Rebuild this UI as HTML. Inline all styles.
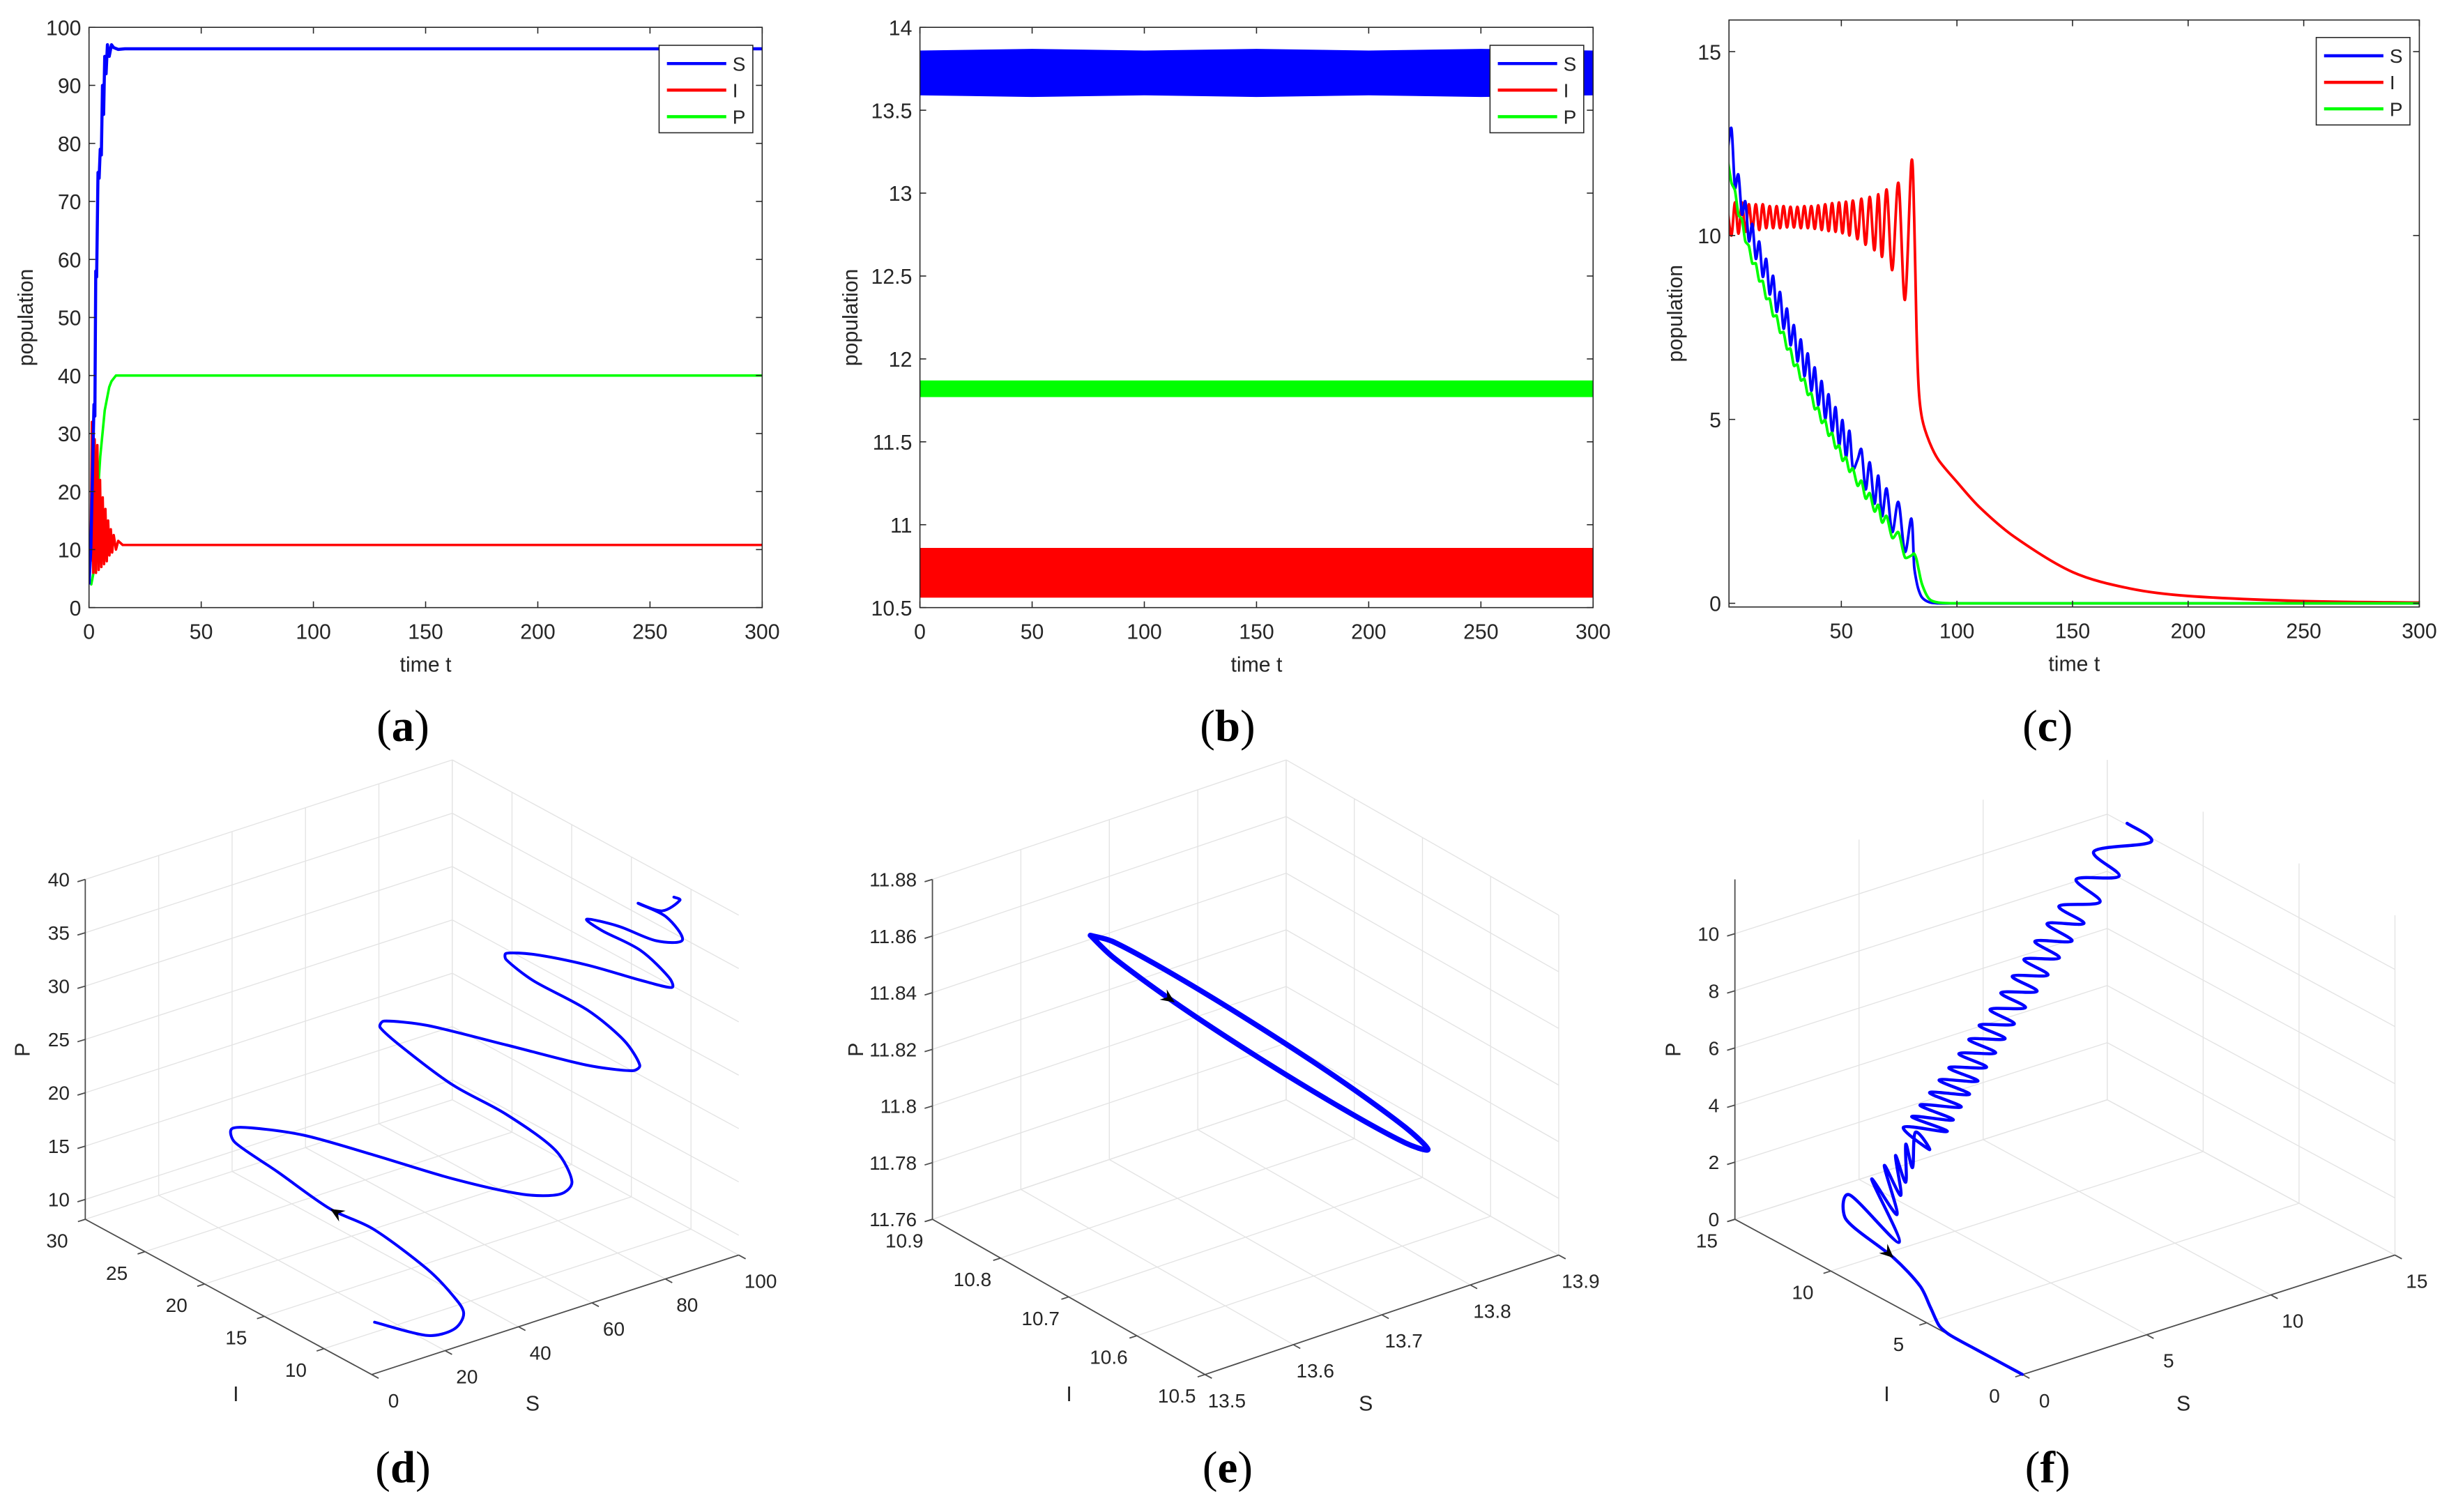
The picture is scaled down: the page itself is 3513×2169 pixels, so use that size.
<!DOCTYPE html>
<html><head><meta charset="utf-8"><style>
html,body{margin:0;padding:0;background:#fff;}
svg{display:block;}
text{font-family:"Liberation Sans",sans-serif;}
</style></head>
<body>
<svg id="fig" xmlns="http://www.w3.org/2000/svg" width="3513" height="2169" viewBox="0 0 1568 968" preserveAspectRatio="none">
<rect x="0" y="0" width="1568" height="968" fill="#fff"/>
</svg>
<script>
// ---------- Panel (a) data ----------
const aTS=[0,0.8,1.5,2.2,2.6,3.0,3.4,4.0,4.5,5.0,5.5,6.0,6.5,7.0,7.6,8.2,9.0,10.0,11,13,16,300];
const aS=[4,10,22,35,33,58,57,75,74,79,78,90,85,95,92,97,95,97,96.5,96.2,96.3,96.3];
const aTI=[0,0.7,1.3,1.9,2.5,3.1,3.7,4.3,4.9,5.5,6.1,6.7,7.3,7.9,8.5,9.1,9.7,10.3,11,12,13,15,300];
const aI=[10,8,32,6,29,6,28,6.5,22,7,19,7.5,17,8,15,9,13.5,9.5,12.5,10,11.5,10.8,10.8];
const aTP=[0,1,2,3,4,5,6,7,8,9,10,11,12,14,300];
const aP=[5,4,6,12,20,26,30,34,36,38,39,39.5,40,40,40];
const aXTicks=[0,50,100,150,200,250,300];
const aYTicks=[0,10,20,30,40,50,60,70,80,90,100];
// ---------- Panel (b) data (oscillation envelopes) ----------
const bT=[0,50,100,150,200,250,300];
const bShi=[13.86,13.87,13.86,13.87,13.86,13.87,13.86];
const bSlo=[13.59,13.58,13.59,13.58,13.59,13.58,13.59];
const bPhi=[11.87,11.87,11.87,11.87,11.87,11.87,11.87];
const bPlo=[11.77,11.77,11.77,11.77,11.77,11.77,11.77];
const bIhi=[10.86,10.86,10.86,10.86,10.86,10.86,10.86];
const bIlo=[10.56,10.56,10.56,10.56,10.56,10.56,10.56];
const bXTicks=[0,50,100,150,200,250,300];
const bYTicks=[10.5,11,11.5,12,12.5,13,13.5,14];
const bYLabels=["10.5","11","11.5","12","12.5","13","13.5","14"];
// ---------- Panel (c) data (common time grid) ----------
const cT=[1,2.5,4,5.5,7,8.5,10,11.5,13,14.5,16,17.5,19,20.5,22,23.5,25,26.5,28,29.5,31,32.5,34,35.5,37,38.5,40,41.5,43,44.5,46,47.5,49,50.5,52,53.5,55,57,58.7,60.5,62.3,64.3,66,67.6,69.6,72,74.7,77.5,80.3,81.5,82.5,83.5,85,88,92,100,110,125,150,175,200,250,300];
const cS=[12.4,12.9,11.3,11.65,10.58,10.92,9.85,10.31,9.37,9.83,8.88,9.36,8.4,8.9,7.93,8.46,7.47,8.01,7.02,7.56,6.58,7.17,6.18,6.79,5.78,6.41,5.39,6.04,5.02,5.68,4.66,5.33,4.29,4.98,3.97,4.69,3.66,3.9,4.18,3.1,3.83,2.71,3.47,2.37,3.12,1.94,2.75,1.4,2.3,1.0,0.6,0.35,0.15,0.03,0,0,0,0,0,0,0,0,0];
const cI=[10.6,10.0,10.9,10.05,10.9,10.1,10.85,10.15,10.85,10.15,10.85,10.2,10.8,10.2,10.8,10.2,10.8,10.22,10.78,10.22,10.78,10.2,10.8,10.2,10.8,10.18,10.82,10.15,10.85,10.12,10.88,10.1,10.9,10.06,10.92,10.0,10.95,9.9,11.0,9.75,11.05,9.6,11.12,9.42,11.25,9.06,11.43,8.25,12.0,10.5,7.5,5.8,5.0,4.4,3.9,3.3,2.6,1.8,0.85,0.4,0.2,0.06,0.02];
const cP=[12.0,11.43,11.22,10.56,10.44,9.84,9.72,9.24,9.24,8.76,8.76,8.28,8.28,7.81,7.82,7.36,7.37,6.91,6.92,6.46,6.49,6.06,6.1,5.67,5.71,5.28,5.32,4.91,4.98,4.56,4.63,4.22,4.29,3.88,3.97,3.58,3.67,3.2,3.33,2.85,2.99,2.5,2.67,2.2,2.37,1.78,1.93,1.25,1.3,1.35,1.2,0.9,0.5,0.12,0.02,0,0,0,0,0,0,0,0];
const cXTicks=[50,100,150,200,250,300];
const cYTicks=[0,5,10,15];
// ---------- Panel (d) data (3D trajectory) ----------
const dS=[5,20,25,27,28,29,30,30,30,32,35,40,45,50,55,60,62,63,64,65,66,67,68,70,74,80,84,86,87,87,87,88,89,90,92,94,95,96,96,96,96,96,96.5,97,97,96.5,96.3,96.3,96.3,96.3];
const dI=[7.3,7.5,6.8,6.6,7.8,10.3,15.1,18.7,23.1,27.3,28.5,28.4,25.5,21.2,16.1,11.8,9.3,8.6,10.3,14.7,19.5,23.8,26.2,26.5,24.1,19.3,13.8,10.6,10.3,11.6,14.7,19.5,22.1,22.4,20.7,16.9,12.7,10.4,10.6,13.0,16.2,17.5,15.0,12.0,9.8,11.0,13.3,11.3,9.8,10.3];
const dP=[11.7,8.65,9.1,10.5,11.3,12.2,12.9,12.6,13.4,13.4,13.6,13.2,13.7,13.9,14.2,14.8,16.1,17.6,19.4,19.96,19.7,20.3,20.8,21.0,21.6,22.0,23.0,24.2,24.8,26.3,27.3,27.0,27.3,27.6,28.3,29.4,30.4,31.0,31.8,32.9,32.8,33.1,33.9,34.3,35.7,37.2,37.1,37.6,39.5,39.5];
const dSTicks=[0,20,40,60,80,100];
const dITicks=[10,15,20,25,30];
const dPTicks=[10,15,20,25,30,35,40];
// ---------- Panel (e) data (limit cycle) ----------
const eS=[13.62,13.635,13.675,13.73,13.785,13.825,13.84,13.825,13.785,13.73,13.675,13.635,13.62];
const eI=[10.824,10.81,10.7715,10.719,10.6665,10.628,10.614,10.628,10.6665,10.719,10.7715,10.81,10.824];
const eP=[11.858,11.8506,11.8357,11.8175,11.8008,11.79,11.788,11.7955,11.8103,11.8285,11.8453,11.8561,11.858];
const eSTicks=[13.5,13.6,13.7,13.8,13.9];
const eITicks=[10.5,10.6,10.7,10.8,10.9];
const ePTicks=[11.76,11.78,11.8,11.82,11.84,11.86,11.88];
// ---------- Panel (f) ticks (trajectory uses panel (c) series) ----------
const fSTicks=[0,5,10,15];
const fITicks=[0,5,10,15];
const fPTicks=[0,2,4,6,8,10];

const NS='http://www.w3.org/2000/svg';
const svg=document.getElementById('fig');
function el(tag,attrs,parent){const e=document.createElementNS(NS,tag);for(const k in attrs)e.setAttribute(k,attrs[k]);(parent||svg).appendChild(e);return e;}
function capVec(v,maxLen){const l=Math.hypot(v[0],v[1]);if(l>maxLen&&l>0){return [v[0]*maxLen/l,v[1]*maxLen/l];}return v;}
function smoothPath(pts){
  let d='M'+pts[0][0].toFixed(2)+','+pts[0][1].toFixed(2);
  for(let i=0;i<pts.length-1;i++){
    const p0=pts[i-1]||pts[i],p1=pts[i],p2=pts[i+1],p3=pts[i+2]||pts[i+1];
    const seg=Math.hypot(p2[0]-p1[0],p2[1]-p1[1])/3;
    const t1=capVec([(p2[0]-p0[0])/6,(p2[1]-p0[1])/6],seg);
    const t2=capVec([(p3[0]-p1[0])/6,(p3[1]-p1[1])/6],seg);
    const c1=[p1[0]+t1[0],p1[1]+t1[1]];
    const c2=[p2[0]-t2[0],p2[1]-t2[1]];
    d+=' C'+c1[0].toFixed(2)+','+c1[1].toFixed(2)+' '+c2[0].toFixed(2)+','+c2[1].toFixed(2)+' '+p2[0].toFixed(2)+','+p2[1].toFixed(2);
  }
  return d;
}
function arrowHead(g,x,y,ang){
  const L=9,W=4,c=Math.cos(ang),s=Math.sin(ang);
  const bx=x-L*c,by=y-L*s,nx=x-0.65*L*c,ny=y-0.65*L*s;
  const pts=[[x,y],[bx-W*s,by+W*c],[nx,ny],[bx+W*s,by-W*c]].map(p=>p[0].toFixed(2)+','+p[1].toFixed(2)).join(' ');
  const a=el('polygon',{points:pts,fill:'#000'},g);
  
  
}
function caption(x,y,letter,name){
  const t=el('text',{x:x,y:y,'text-anchor':'middle','font-size':29,fill:'#000',style:'font-family:"Liberation Serif",serif'});
  
  
  const s1=el('tspan',{},t);s1.textContent='(';
  const s2=el('tspan',{'font-weight':'bold'},t);s2.textContent=letter;
  const s3=el('tspan',{},t);s3.textContent=')';
}

// ---------- 2D axes ----------
function axes2D(cfg){
  const g=el('g',{});
  
  
  cfg.sx=v=>cfg.x0+(v-cfg.xmin)/(cfg.xmax-cfg.xmin)*(cfg.x1-cfg.x0);
  cfg.sy=v=>cfg.y1-(v-cfg.ymin)/(cfg.ymax-cfg.ymin)*(cfg.y1-cfg.y0);
  const cp=el('clipPath',{id:cfg.name+'-clip'},g);
  el('rect',{x:cfg.x0,y:cfg.y0,width:cfg.x1-cfg.x0,height:cfg.y1-cfg.y0},cp);
  cfg.g=g;
  cfg.dg=el('g',{'clip-path':'url(#'+cfg.name+'-clip)'},g);
  
  
  return cfg;
}
function frame2D(cfg){
  const g=cfg.g;
  const fr=el('rect',{x:cfg.x0,y:cfg.y0,width:cfg.x1-cfg.x0,height:cfg.y1-cfg.y0,fill:'none',stroke:'#262626','stroke-width':0.7},g);
  
  
  cfg.xticks.forEach((v,k)=>{
    const x=cfg.sx(v);
    const t1=el('line',{x1:x,y1:cfg.y1,x2:x,y2:cfg.y1-4,stroke:'#262626','stroke-width':0.7},g);
    
    
    const t2=el('line',{x1:x,y1:cfg.y0,x2:x,y2:cfg.y0+4,stroke:'#262626','stroke-width':0.7},g);
    
    
    const lb=el('text',{x:x,y:cfg.y1+20,'text-anchor':'middle','font-size':13.5,fill:'#262626'},g);
    
    
    lb.textContent=String(v);
  });
  cfg.yticks.forEach((v,k)=>{
    const y=cfg.sy(v);
    const t1=el('line',{x1:cfg.x0,y1:y,x2:cfg.x0+4,y2:y,stroke:'#262626','stroke-width':0.7},g);
    
    
    const t2=el('line',{x1:cfg.x1,y1:y,x2:cfg.x1-4,y2:y,stroke:'#262626','stroke-width':0.7},g);
    
    
    const lb=el('text',{x:cfg.x0-5,y:y+5,'text-anchor':'end','font-size':13.5,fill:'#262626'},g);
    
    
    lb.textContent=cfg.ylabels?cfg.ylabels[k]:String(v);
  });
  const xt=el('text',{x:(cfg.x0+cfg.x1)/2,y:cfg.y1+41,'text-anchor':'middle','font-size':13.5,fill:'#262626'},g);
  
  
  xt.textContent='time t';
  const yt=el('text',{x:0,y:0,'text-anchor':'middle','font-size':13.5,fill:'#262626',transform:'translate('+cfg.ylx+','+((cfg.y0+cfg.y1)/2)+') rotate(-90)'},g);
  
  
  yt.textContent='population';
  const lx=cfg.x1-66,ly=cfg.legY;
  const lg=el('g',{},g);
  
  
  const lr=el('rect',{x:lx,y:ly,width:60,height:56,fill:'#fff',stroke:'#262626','stroke-width':0.7},lg);
  
  
  [['S','#0000ff'],['I','#ff0000'],['P','#00ff00']].forEach((e,k)=>{
    const yy=ly+11.7+k*17;
    const ln=el('line',{x1:lx+5,y1:yy,x2:lx+43,y2:yy,stroke:e[1],'stroke-width':2},lg);
    
    
    const tx=el('text',{x:lx+47,y:yy+4.5,'font-size':12.5,fill:'#262626'},lg);
    
    
    tx.textContent=e[0];
  });
}
function series2D(cfg,ts,vs,color,w,name,smooth){
  const pts=ts.map((t,k)=>[cfg.sx(t),cfg.sy(vs[k])]);
  const d=smooth?smoothPath(pts):'M'+pts.map(p=>p[0].toFixed(2)+','+p[1].toFixed(2)).join(' L');
  const p=el('path',{d:d,fill:'none',stroke:color,'stroke-width':w,'stroke-linejoin':'round'},cfg.dg);
  
  
}
function band2D(cfg,ts,hi,lo,color,name){
  const up=ts.map((t,k)=>cfg.sx(t).toFixed(2)+','+cfg.sy(hi[k]).toFixed(2));
  const dn=ts.map((t,k)=>cfg.sx(t).toFixed(2)+','+cfg.sy(lo[k]).toFixed(2)).reverse();
  const p=el('polygon',{points:up.concat(dn).join(' '),fill:color},cfg.dg);
  
  
}

// Panel a
const A=axes2D({name:'panel-a',x0:57,x1:488,y0:17.5,y1:389,xmin:0,xmax:300,ymin:0,ymax:100,xticks:aXTicks,yticks:aYTicks,ylx:21,legY:29});
series2D(A,aTP,aP,'#00ff00',1.6,'series-P-line',false);
series2D(A,aTI,aI,'#ff0000',1.6,'series-I-line',false);
series2D(A,aTS,aS,'#0000ff',2,'series-S-line',false);
frame2D(A);
// Panel b
const B=axes2D({name:'panel-b',x0:589,x1:1020,y0:17.5,y1:389,xmin:0,xmax:300,ymin:10.5,ymax:14,xticks:bXTicks,yticks:bYTicks,ylabels:bYLabels,ylx:549,legY:29});
band2D(B,bT,bShi,bSlo,'#0000ff','series-S-band');
band2D(B,bT,bPhi,bPlo,'#00ff00','series-P-band');
band2D(B,bT,bIhi,bIlo,'#ff0000','series-I-band');
frame2D(B);
// Panel c
const C=axes2D({name:'panel-c',x0:1107,x1:1549,y0:12.8,y1:388.6,xmin:1.4,xmax:300,ymin:-0.1,ymax:15.86,xticks:cXTicks,yticks:cYTicks,ylx:1077,legY:24});
series2D(C,cT,cI,'#ff0000',1.7,'series-I-line',true);
series2D(C,cT,cS,'#0000ff',1.7,'series-S-line',true);
series2D(C,cT,cP,'#00ff00',1.7,'series-P-line',true);
frame2D(C);

caption(258,474.5,'a','caption-a');
caption(786,474.5,'b','caption-b');
caption(1311,474.5,'c','caption-c');

// ---------- 3D axes ----------
function axes3D(cfg){
  const g=el('g',{});
  
  
  cfg.g=g;
  cfg.pr=(s,i,p)=>{
    const sn=(s-cfg.sMin)/(cfg.sMax-cfg.sMin),inn=(i-cfg.iMin)/(cfg.iMax-cfg.iMin),pn=(p-cfg.pMin)/(cfg.pMax-cfg.pMin);
    return [cfg.ox+sn*cfg.SX+inn*cfg.IX, cfg.oy+sn*cfg.SY+inn*cfg.IY-pn*217.6];
  };
  const L=(a,b,col,w,name)=>{const e=el('line',{x1:a[0].toFixed(2),y1:a[1].toFixed(2),x2:b[0].toFixed(2),y2:b[1].toFixed(2),stroke:col,'stroke-width':w},g);return e;};
  const gc='#e3e3e3',gw=0.6;
  const {sMin,sMax,iMin,iMax,pMin,pMax}=cfg;
  cfg.sT.forEach(s=>{L(cfg.pr(s,iMax,pMin),cfg.pr(s,iMax,pMax),gc,gw,'grid-line-s-wall');L(cfg.pr(s,iMin,pMin),cfg.pr(s,iMax,pMin),gc,gw,'grid-line-s-floor');});
  cfg.iT.forEach(i=>{L(cfg.pr(sMax,i,pMin),cfg.pr(sMax,i,pMax),gc,gw,'grid-line-i-wall');L(cfg.pr(sMin,i,pMin),cfg.pr(sMax,i,pMin),gc,gw,'grid-line-i-floor');});
  cfg.pT.forEach(p=>{L(cfg.pr(sMin,iMax,p),cfg.pr(sMax,iMax,p),gc,gw,'grid-line-p-left');L(cfg.pr(sMax,iMin,p),cfg.pr(sMax,iMax,p),gc,gw,'grid-line-p-right');});
  const ac='#4d4d4d';
  L(cfg.pr(sMin,iMax,pMin),cfg.pr(sMin,iMax,pMax),ac,0.8,'p-axis-line');
  L(cfg.pr(sMin,iMin,pMin),cfg.pr(sMin,iMax,pMin),ac,0.8,'i-axis-line');
  L(cfg.pr(sMin,iMin,pMin),cfg.pr(sMax,iMin,pMin),ac,0.8,'s-axis-line');
  const T=(x,y,anchor,txt,name,fs)=>{const t=el('text',{x:x.toFixed(2),y:y.toFixed(2),'text-anchor':anchor,'font-size':fs||12.5,fill:'#262626'},g);t.textContent=txt;return t;};
  cfg.pT.forEach(p=>{const q=cfg.pr(sMin,iMax,p);L(q,[q[0]-5,q[1]+1.5],ac,0.8,'p-tick');T(q[0]-10,q[1]+4.5,'end',String(p),'p-tick-label');});
  cfg.iT.forEach(i=>{const q=cfg.pr(sMin,i,pMin);L(q,[q[0]-4.7,q[1]+1.5],ac,0.8,'i-tick');T(q[0]-18,q[1]+18,'middle',String(i),'i-tick-label');});
  cfg.sT.forEach(s=>{const q=cfg.pr(s,iMin,pMin);L(q,[q[0]+4.4,q[1]+2.4],ac,0.8,'s-tick');T(q[0]+14,q[1]+21,'middle',String(s),'s-tick-label');});
  T(cfg.ox-87,cfg.oy+17,'middle','I','i-axis-title',13.5);
  T(cfg.ox+103,cfg.oy+23,'middle','S','s-axis-title',13.5);
  const pt=el('text',{x:0,y:0,'text-anchor':'middle','font-size':13.5,fill:'#262626',transform:'translate('+(cfg.ox-219)+',672) rotate(-90)'},g);
  
  
  pt.textContent='P';
  return cfg;
}
function curve3D(cfg,S,I,P,w,name,closed){
  const pts=S.map((s,k)=>cfg.pr(s,I[k],P[k]));
  const p=el('path',{d:smoothPath(pts)+(closed?' Z':''),fill:'none',stroke:'#0000ff','stroke-width':w,'stroke-linejoin':'round','stroke-linecap':'round'},cfg.g);
  
  
  return pts;
}

// Panel d
const D=axes3D({name:'panel-d',ox:238,oy:880,SX:235,SY:-76.5,IX:-183.4,IY:-99.4,sMin:0,sMax:100,iMin:6,iMax:30,pMin:8.14,pMax:40,sT:dSTicks,iT:dITicks,pT:dPTicks});
const dPts=curve3D(D,dS,dI,dP,1.8,'trajectory-d',false);
{const a=dPts[6],b=dPts[8];arrowHead(D.g,dPts[7][0],dPts[7][1],Math.atan2(b[1]-a[1],b[0]-a[0]));}
// Panel e
const E=axes3D({name:'panel-e',ox:771.5,oy:880,SX:226.5,SY:-76.5,IX:-174.5,IY:-99.4,sMin:13.5,sMax:13.9,iMin:10.5,iMax:10.9,pMin:11.76,pMax:11.88,sT:eSTicks,iT:eITicks,pT:ePTicks});
const ePts=curve3D(E,eS,eI,eP,3.4,'limit-cycle-e',true);
{const a=ePts[1],b=ePts[3];arrowHead(E.g,ePts[2][0],ePts[2][1],Math.atan2(b[1]-a[1],b[0]-a[0]));}
// Panel f (phase trajectory of the panel (c) series)
const F=axes3D({name:'panel-f',ox:1295,oy:880,SX:238.4,SY:-76.5,IX:-184.2,IY:-99.4,sMin:0,sMax:15,iMin:0,iMax:15,pMin:0,pMax:11.9,sT:fSTicks,iT:fITicks,pT:fPTicks});
const fPts=curve3D(F,cS,cI,cP,2,'trajectory-f',false);
{let k=cT.findIndex(t=>t>=82.5);if(k<1)k=1;const a=fPts[k-1],b=fPts[Math.min(k+1,fPts.length-1)];arrowHead(F.g,fPts[k][0],fPts[k][1],Math.atan2(b[1]-a[1],b[0]-a[0]));}

caption(258,949,'d','caption-d');
caption(786,949,'e','caption-e');
caption(1311,949,'f','caption-f');
</script>
</body></html>
